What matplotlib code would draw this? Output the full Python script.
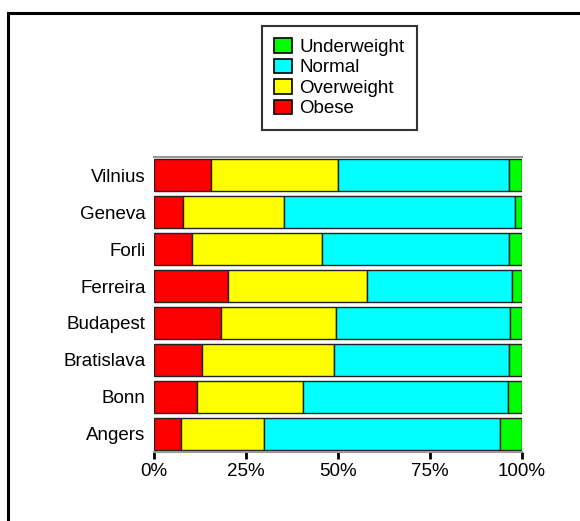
import matplotlib
matplotlib.use("Agg")
import matplotlib.pyplot as plt
from matplotlib.lines import Line2D
from matplotlib.patches import Patch
import numpy as np

plt.rcParams['font.family'] = ['Liberation Sans', 'DejaVu Sans']

cities = ["Angers", "Bonn", "Bratislava", "Budapest", "Ferreira", "Forli", "Geneva", "Vilnius"]
obese = [7.3, 11.6, 13.0, 18.1, 20.2, 10.2, 7.8, 15.4]
overweight = [22.7, 28.8, 36.0, 31.3, 37.8, 35.4, 27.6, 34.6]
normal = [64.0, 55.7, 47.4, 47.3, 39.2, 50.8, 62.8, 46.4]
underweight = [6.0, 3.9, 3.6, 3.3, 2.8, 3.6, 1.8, 3.6]

series = [("Obese", obese, "#ff0000"),
          ("Overweight", overweight, "#ffff00"),
          ("Normal", normal, "#00ffff"),
          ("Underweight", underweight, "#00ff00")]
xticks = [0, 25, 50, 75, 100]
xticklabels = ["0%", "25%", "50%", "75%", "100%"]

FS = 13.5

fig = plt.figure(figsize=(5.8, 5.21), dpi=100)
ax = fig.add_axes([154/580, 69/521, 368/580, 295/521])

y = np.arange(len(cities))
left = np.zeros(len(cities))
for name, vals, col in series:
    vals = np.array(vals)
    ax.barh(y, vals, left=left, height=0.87, color=col, edgecolor="#222222", linewidth=1.0)
    left += vals

ax.set_xlim(0, 100)
ax.set_ylim(-0.5, len(cities) - 0.5)
ax.set_yticks(y)
ax.set_yticklabels(cities, fontsize=FS)
ax.set_xticks(xticks)
ax.set_xticklabels(xticklabels, fontsize=FS)
ax.tick_params(axis='y', length=0, pad=6)
ax.tick_params(axis='x', length=5, width=2, direction='out', color='black', pad=3)
for s in ['left', 'right']:
    ax.spines[s].set_visible(False)
for s in ['top', 'bottom']:
    ax.spines[s].set_color('#999999')
    ax.spines[s].set_linewidth(1.5)

handles = [Patch(facecolor=col, edgecolor='black', linewidth=1.2, label=name)
           for name, vals, col in reversed(series)]
leg = fig.legend(handles=handles, loc='upper left',
                 bbox_to_anchor=(262/580, 1 - 26/521), borderaxespad=0,
                 fontsize=FS, frameon=True, fancybox=False, shadow=False,
                 handlelength=0.95, handleheight=0.8, handletextpad=0.4,
                 labelspacing=0.15, borderpad=0.65)
leg.get_frame().set_edgecolor('black')
leg.get_frame().set_linewidth(1.5)

# outer frame lines
fig.add_artist(Line2D([7.5/580, 1.0], [1 - 12.5/521, 1 - 12.5/521],
                      transform=fig.transFigure, color='black', linewidth=2.2))
fig.add_artist(Line2D([7.5/580, 7.5/580], [0.0, 1 - 12.5/521],
                      transform=fig.transFigure, color='black', linewidth=2.2))

fig.savefig("out.png", dpi=100)
